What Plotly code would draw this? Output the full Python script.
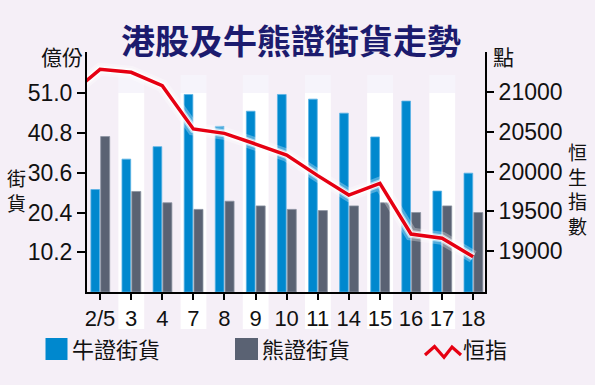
import plotly.graph_objects as go

# ---------------- data ----------------
dates = ["2/5", "3", "4", "7", "8", "9", "10", "11", "14", "15", "16", "17", "18"]
bull_values = [26.3, 34.1, 37.3, 50.7, 42.5, 46.4, 50.7, 49.5, 45.9, 39.8, 49.0, 25.9, 30.5]
bear_values = [39.9, 25.8, 22.9, 21.2, 23.3, 22.1, 21.2, 20.9, 22.1, 22.9, 20.4, 22.1, 20.4]
# Hang Seng index; first value is the previous session (only its stub is visible)
hsi_prev = 20960
hsi_values = [21290, 21253, 21083, 20537, 20482, 20347, 20208, 19948, 19703, 19851, 19211, 19157, 18924]

left_ticks = [10.2, 20.4, 30.6, 40.8, 51.0]
right_ticks = [19000, 19500, 20000, 20500, 21000]

# ---------------- styling ----------------
W, H = 595, 385
PL, PR, PT, PB = 87, 485, 52, 292  # plot area in pixels
BG = "#F5EFF7"
BLUE = "#0088CE"
GREY = "#5A6273"
RED = "#E60012"
NAVY = "#1C1B6E"
CJK = "Noto Sans CJK TC"
LAT = "Liberation Sans, Arial"


def px(X):
    return (X - PL) / (PR - PL)


def py(Y):
    return (PB - Y) / (PB - PT)


idx = list(range(len(dates)))
line_x = [-1] + idx
line_y = [hsi_prev] + hsi_values

fig = go.Figure()

fig.add_trace(go.Bar(x=idx, y=bull_values, name="牛證街貨", marker_color=BLUE,
                     marker_line=dict(color="#5BB3E4", width=0.8),
                     width=0.28, offset=-0.295, showlegend=False))
fig.add_trace(go.Bar(x=idx, y=bear_values, name="熊證街貨", marker_color=GREY,
                     marker_line=dict(color="#8C93A1", width=0.8),
                     width=0.29, offset=0.02, showlegend=False))

# glow around the index line
for w, c in [(13, "rgba(255,255,255,0.30)"), (8, "rgba(255,255,255,0.55)"), (5.5, "rgba(255,255,255,0.8)")]:
    fig.add_trace(go.Scatter(x=line_x, y=line_y, mode="lines", yaxis="y2",
                             line=dict(color=c, width=w), hoverinfo="skip", showlegend=False))
fig.add_trace(go.Scatter(x=line_x, y=line_y, mode="lines", yaxis="y2", name="恒指",
                         line=dict(color=RED, width=3.5), showlegend=False))

shapes = []
# alternating white stripes
for i in idx:
    if i % 2 == 1:
        shapes.append(dict(type="rect", xref="x", yref="paper", x0=i - 0.41, x1=i + 0.42,
                           y0=py(329), y1=py(93), fillcolor="white", line_width=0, layer="below"))
        shapes.append(dict(type="rect", xref="x", yref="paper", x0=i - 0.41, x1=i + 0.42,
                           y0=py(93), y1=py(75), fillcolor="#F6F4FB", line_width=0, layer="below"))

# legend symbols
shapes.append(dict(type="rect", xref="paper", yref="paper", x0=px(45.5), x1=px(67.5),
                   y0=py(360), y1=py(338), fillcolor=BLUE, line_width=0))
shapes.append(dict(type="rect", xref="paper", yref="paper", x0=px(235), x1=px(258),
                   y0=py(360), y1=py(338), fillcolor=GREY, line_width=0))
zz = [(425, 355), (434.5, 346.5), (444, 357.3), (452, 347), (461, 355)]
path = "M" + " L".join(f"{px(a):.4f},{py(b):.4f}" for a, b in zz)
shapes.append(dict(type="path", xref="paper", yref="paper", path=path,
                   line=dict(color=RED, width=3.2)))

annotations = []


def ann(text, X, Y, size, xanchor="center", color="#111", family=CJK):
    annotations.append(dict(text=text, x=px(X), y=py(Y), xref="paper", yref="paper",
                            xanchor=xanchor, yanchor="middle", showarrow=False, borderpad=0,
                            font=dict(family=family, size=size, color=color)))


ann("<b>港股及牛熊證街貨走勢</b>", 291, 40, 34, color=NAVY)
ann("億份", 61.5, 56, 21)
ann("點", 503.5, 56, 21)
ann("街<br>貨", 16, 190, 19)
ann("恒<br>生<br>指<br>數", 577.5, 188, 19)
ann("牛證街貨", 71, 348, 22, xanchor="left")
ann("熊證街貨", 261, 348, 22, xanchor="left")
ann("恒指", 462, 348, 22, xanchor="left")

tickfont = dict(family=LAT, size=23, color="#111")

fig.update_layout(
    width=W, height=H,
    margin=dict(l=PL, r=W - PR, t=PT, b=H - PB, autoexpand=False),
    paper_bgcolor=BG, plot_bgcolor=BG,
    barmode="overlay",
    showlegend=False,
    shapes=shapes,
    annotations=annotations,
    xaxis=dict(range=[-0.42, 12.38], tickvals=idx, ticktext=dates, showgrid=False, zeroline=False,
               showline=True, linecolor="black", linewidth=2, ticks="outside", ticklen=6,
               tickwidth=2, tickcolor="black", tickfont=dict(family=LAT, size=22, color="#111")),
    yaxis=dict(range=[0, 61.6], tickvals=left_ticks, tickformat=".1f", showgrid=False, zeroline=False,
               showline=True, linecolor="black", linewidth=2, ticks="outside", ticklen=8,
               tickwidth=2, tickcolor="black", tickfont=tickfont),
    yaxis2=dict(range=[18479, 21509], tickvals=right_ticks, tickformat="d", overlaying="y", side="right",
                showgrid=False, zeroline=False, showline=True, linecolor="black", linewidth=2,
                ticks="outside", ticklen=7, tickwidth=2, tickcolor="black", tickfont=tickfont),
)

fig.write_html(
    "out.html",
    config={"displayModeBar": False},
    post_script="document.body.style.margin='0';document.body.style.background='%s';" % BG,
)
